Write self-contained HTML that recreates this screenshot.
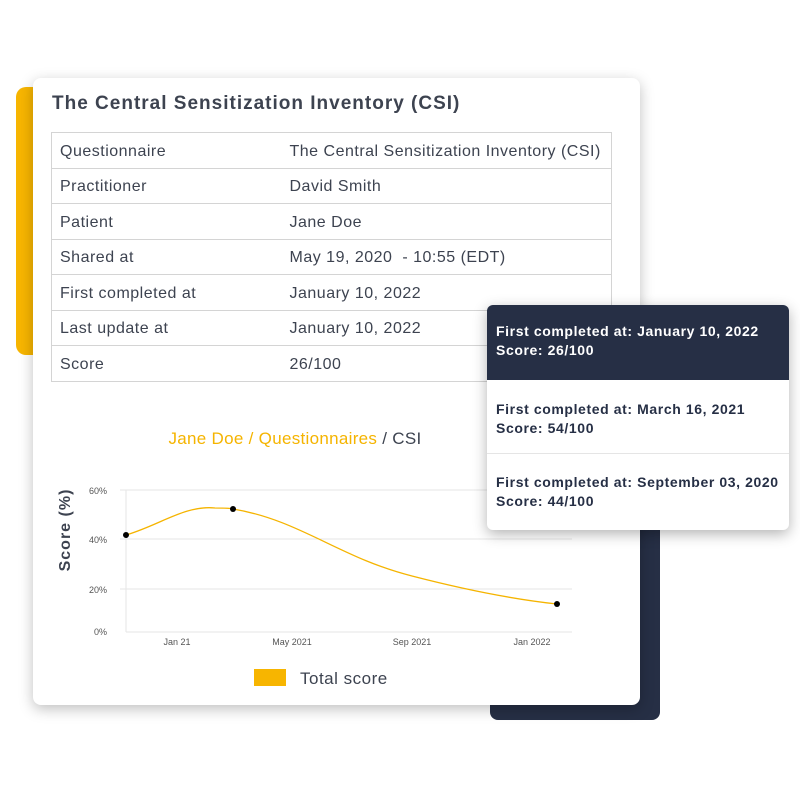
<!DOCTYPE html>
<html><head><style>
body{margin:0;width:800px;height:800px;background:#fff;position:relative;overflow:hidden;font-family:"Liberation Sans",sans-serif;color:#3d4350}
.abs{position:absolute}
.yel{left:16px;top:87px;width:40px;height:268px;background:#f7b500;border-radius:10px}
.navy{left:490px;top:500px;width:170px;height:220px;background:#262f45;border-radius:8px}
.card{left:33px;top:78px;width:607px;height:627px;background:#fff;border-radius:8px;box-shadow:0 4px 14px rgba(0,0,0,.25)}
h1{position:absolute;left:52px;top:93px;margin:0;font-size:19px;font-weight:bold;color:#3d4350;letter-spacing:1px}
table{position:absolute;left:51px;top:132px;width:561px;border-collapse:collapse;font-size:16px;letter-spacing:0.5px}
td{border-top:1px solid #d4d4d4;border-bottom:1px solid #d4d4d4;height:35.5px;padding:3px 0 0 8px;box-sizing:border-box;color:#3d4350}
td:first-child{border-left:1px solid #d4d4d4}
td.v{padding-left:0;width:322px;border-right:1px solid #d4d4d4}
.tt{left:487px;top:305px;width:302px;height:225px;background:#fff;border-radius:6px;box-shadow:0 4px 14px rgba(0,0,0,.3);overflow:hidden;font-size:14px;font-weight:bold;color:#262f45;line-height:19px;letter-spacing:0.6px}
.tt div{padding-left:9px;box-sizing:border-box}
</style></head><body>
<div class="abs yel"></div>
<div class="abs navy"></div>
<div class="abs card"></div>
<h1>The Central Sensitization Inventory (CSI)</h1>
<table>
<tr><td>Questionnaire</td><td class="v">The Central Sensitization Inventory (CSI)</td></tr>
<tr><td>Practitioner</td><td class="v">David Smith</td></tr>
<tr><td>Patient</td><td class="v">Jane Doe</td></tr>
<tr><td>Shared at</td><td class="v">May 19, 2020&nbsp; - 10:55 (EDT)</td></tr>
<tr><td>First completed at</td><td class="v">January 10, 2022</td></tr>
<tr><td>Last update at</td><td class="v">January 10, 2022</td></tr>
<tr><td>Score</td><td class="v">26/100</td></tr>
</table>
<div class="abs" style="left:0;width:590px;top:429px;text-align:center;font-size:17px;letter-spacing:0.3px"><span style="color:#f5b400">Jane Doe / Questionnaires</span> / CSI</div>
<svg class="abs" style="left:0;top:0" width="800" height="800">
<g stroke="#e6e6e6" stroke-width="1">
<line x1="120" y1="490" x2="572" y2="490"/><line x1="120" y1="539" x2="572" y2="539"/><line x1="120" y1="589" x2="572" y2="589"/><line x1="126" y1="632" x2="572" y2="632"/><line x1="126" y1="490" x2="126" y2="632"/>
</g>
<g font-size="9" fill="#555" text-anchor="end">
<text x="107" y="494">60%</text><text x="107" y="543">40%</text><text x="107" y="593">20%</text><text x="107" y="635">0%</text>
</g>
<g font-size="9" fill="#555" text-anchor="middle">
<text x="177" y="645">Jan 21</text><text x="292" y="645">May 2021</text><text x="412" y="645">Sep 2021</text><text x="532" y="645">Jan 2022</text>
</g>
<text transform="translate(70,530) rotate(-90)" font-size="16" font-weight="bold" fill="#3d4350" text-anchor="middle" letter-spacing="1">Score (%)</text>
<path d="M126,535 C160,525 185,505 215,508 C225,508 230,508 233,509 C300,520 340,558 412,576 C470,591 520,600 557,604" fill="none" stroke="#f5b400" stroke-width="1.3"/>
<circle cx="126" cy="535" r="3" fill="#000"/><circle cx="233" cy="509" r="3" fill="#000"/><circle cx="557" cy="604" r="3" fill="#000"/>
<rect x="254" y="669" width="32" height="17" fill="#f7b500"/>
<text x="300" y="684" font-size="17" fill="#3d4350" letter-spacing="0.5">Total score</text>
</svg>
<div class="abs tt">
<div style="background:#262f45;color:#fff;height:75px;padding-top:17px">First completed at: January 10, 2022<br>Score: 26/100</div>
<div style="height:74px;padding-top:20px;border-bottom:1px solid #e5e5e5">First completed at: March 16, 2021<br>Score: 54/100</div>
<div style="padding-top:19px">First completed at: September 03, 2020<br>Score: 44/100</div>
</div>
</body></html>
